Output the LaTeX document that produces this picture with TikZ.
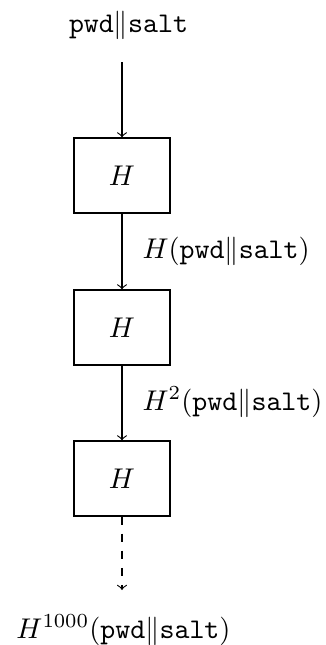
\documentclass[tikz,border=0pt]{standalone}
\begin{document}
\begin{tikzpicture}[x=0.3509pt,y=-0.3509pt,
  hbox/.style={draw, minimum width=33.7pt, minimum height=26.3pt, inner sep=0pt},
  txt/.style={inner sep=0pt},
  arr/.style={->}]
\useasboundingbox (0,0) rectangle (325,645);
\node[txt, anchor=base] (in) at (128.5,32) {$\texttt{pwd}\|\texttt{salt}$};
\coordinate (s) at (122,62);
\node[hbox] (h1) at (122,175.5) {$H$};
\node[hbox] (h2) at (122,327.5) {$H$};
\node[hbox] (h3) at (122,478.5) {$H$};
\coordinate (e) at (122,590);
\node[txt, anchor=base west] (l1) at (142,258) {$H(\texttt{pwd}\|\texttt{salt})$};
\node[txt, anchor=base west] (l2) at (142,410) {$H^2(\texttt{pwd}\|\texttt{salt})$};
\node[txt, anchor=base] (out) at (123.5,638) {$H^{1000}(\texttt{pwd}\|\texttt{salt})$};
\draw[arr] (s) -- (h1.north);
\draw[arr] (h1.south) -- (h2.north);
\draw[arr] (h2.south) -- (h3.north);
\draw[arr, dashed] (h3.south) -- (e);
\end{tikzpicture}
\end{document}
